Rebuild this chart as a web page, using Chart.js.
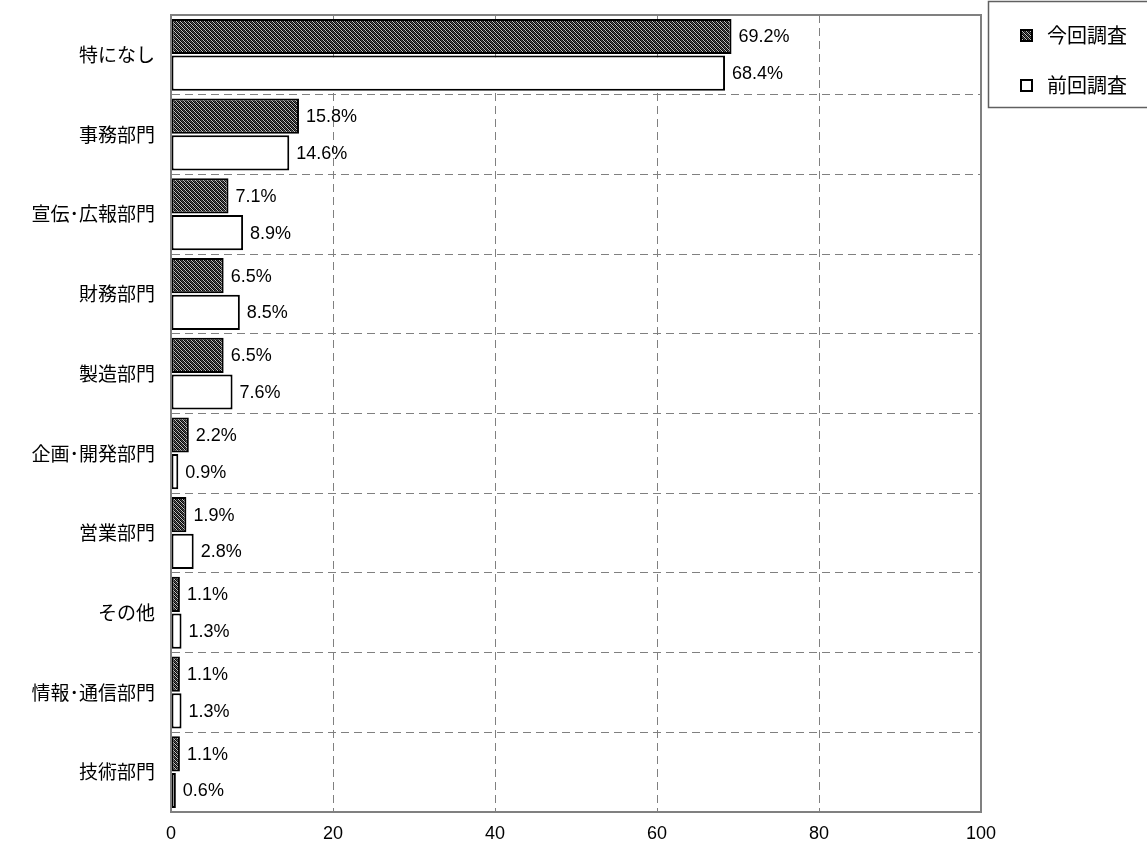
<!DOCTYPE html>
<html>
<head>
<meta charset="utf-8">
<script src="https://cdn.jsdelivr.net/npm/chart.js@4/dist/chart.umd.min.js"></script>
<style>
  html, body { margin: 0; padding: 0; background: #fff; }
  #wrap { width: 1147px; height: 843px; }
</style>
</head>
<body>
<div id="wrap"><canvas id="deptChart"></canvas></div>
<script>
const categories = ["特になし", "事務部門", "宣伝･広報部門", "財務部門", "製造部門", "企画･開発部門", "営業部門", "その他", "情報･通信部門", "技術部門"];
const currentSurvey = [69.2, 15.8, 7.1, 6.5, 6.5, 2.2, 1.9, 1.1, 1.1, 1.1];
const previousSurvey = [68.4, 14.6, 8.9, 8.5, 7.6, 0.9, 2.8, 1.3, 1.3, 0.6];
const seriesNames = ["今回調査", "前回調査"];
const xTicks = [0, 20, 40, 60, 80, 100];

const FONT = '"Liberation Sans", "Noto Sans CJK JP", sans-serif';
const JP_FONT = '"Noto Sans CJK JP", "Liberation Sans", sans-serif';

// dark fine diagonal hatch used for the current survey bars
function makeHatch() {
  const c = document.createElement("canvas");
  c.width = 4; c.height = 4;
  const g = c.getContext("2d");
  const shades = ["#000", "#505050", "#111", "#c4c4c4"];
  for (let y = 0; y < 4; y++) {
    for (let x = 0; x < 4; x++) {
      g.fillStyle = shades[((x - y) % 4 + 4) % 4];
      g.fillRect(x, y, 1, 1);
    }
  }
  return g.createPattern(c, "repeat");
}
const hatch = makeHatch();

const labelPlugin = {
  id: "barLabels",
  afterDatasetsDraw(chart) {
    const ctx = chart.ctx;
    ctx.save();
    ctx.font = "18px " + FONT;
    ctx.fillStyle = "#000";
    ctx.textBaseline = "middle";
    ctx.textAlign = "left";
    chart.data.datasets.forEach((ds, i) => {
      chart.getDatasetMeta(i).data.forEach((bar, j) => {
        ctx.fillText(ds.data[j].toFixed(1) + "%", bar.x + 7, bar.y + 1);
      });
    });
    ctx.restore();
  }
};

const framePlugin = {
  id: "frame",
  afterDraw(chart) {
    const { ctx, chartArea: a } = chart;
    ctx.save();
    ctx.strokeStyle = "#808080";
    ctx.lineWidth = 2;
    ctx.strokeRect(a.left, a.top, a.right - a.left, a.bottom - a.top);

    // legend box
    ctx.lineWidth = 1.5;
    ctx.strokeStyle = "#606060";
    ctx.strokeRect(988.5, 1.5, 162, 106);
    ctx.font = "20px " + JP_FONT;
    ctx.textBaseline = "middle";
    ctx.textAlign = "left";
    const rows = [35, 85];
    chart.data.datasets.forEach((ds, i) => {
      const y = rows[i];
      ctx.fillStyle = ds.backgroundColor;
      ctx.fillRect(1021, y - 5, 11, 11);
      ctx.strokeStyle = "#000";
      ctx.lineWidth = 2;
      ctx.strokeRect(1021, y - 5, 11, 11);
      ctx.fillStyle = "#000";
      ctx.fillText(ds.label, 1047, y);
    });
    ctx.restore();
  }
};

new Chart(document.getElementById("deptChart"), {
  type: "bar",
  data: {
    labels: categories,
    datasets: [
      {
        label: seriesNames[0],
        data: currentSurvey,
        backgroundColor: hatch,
        borderColor: "#000",
        borderWidth: 2,
        borderSkipped: false,
        barPercentage: 0.96,
        categoryPercentage: 0.92
      },
      {
        label: seriesNames[1],
        data: previousSurvey,
        backgroundColor: "#ffffff",
        borderColor: "#000",
        borderWidth: 2,
        borderSkipped: false,
        barPercentage: 0.96,
        categoryPercentage: 0.92
      }
    ]
  },
  options: {
    indexAxis: "y",
    responsive: true,
    maintainAspectRatio: false,
    animation: false,
    layout: { padding: { top: 15, right: 166, left: 0, bottom: 0 } },
    plugins: {
      legend: { display: false },
      tooltip: { enabled: false }
    },
    scales: {
      x: {
        min: 0,
        max: 100,
        afterBuildTicks(scale) {
          scale.ticks = xTicks.map(v => ({ value: v }));
        },
        afterFit(scale) {
          scale.height = 31;
          scale.paddingLeft = 0;
          scale.paddingRight = 0;
        },
        grid: {
          color: "#808080",
          lineWidth: 1,
          drawTicks: false
        },
        border: { display: true, color: "#808080", width: 2, dash: [8, 5] },
        ticks: {
          color: "#000",
          font: { size: 18, family: FONT },
          padding: 11
        }
      },
      y: {
        afterFit(scale) {
          scale.width = 171;
          scale.paddingTop = 0;
          scale.paddingBottom = 0;
        },
        grid: {
          color: "#808080",
          lineWidth: 1,
          drawTicks: false,
          offset: true
        },
        border: { display: true, color: "#808080", width: 2, dash: [8, 5] },
        ticks: {
          color: "#000",
          font: { size: 19, family: JP_FONT },
          padding: 16
        }
      }
    }
  },
  plugins: [labelPlugin, framePlugin]
});
</script>
</body>
</html>
